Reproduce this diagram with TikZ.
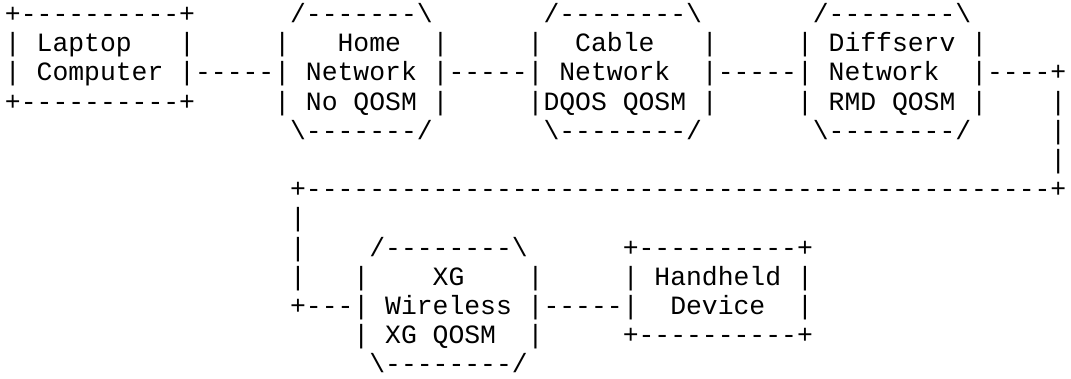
\documentclass[tikz,border=0pt]{standalone}
\usepackage{fontspec}
\setmonofont{Liberation Mono}
\newcommand{\asciifont}{\ttfamily\fontsize{26.4pt}{29.2pt}\selectfont}
\newcommand{\bs}{\textbackslash}
% \A{name}{column}{row}{text}
\newcommand{\A}[4]{\node[ascii] (#1) at ({(5+15.84*#2)*1pt},{(-22.5-29.2*#3)*1pt}) {#4};}
\tikzset{ascii/.style={anchor=base west, inner sep=0pt, outer sep=0pt, font=\asciifont, text=black}}
\begin{document}
\begin{tikzpicture}
\useasboundingbox (0pt,0pt) rectangle (1071pt,-378pt);
% row 0
\A{lapT}{0}{0}{+----------+}
\A{homeT}{18}{0}{/-------\bs}
\A{cabT}{34}{0}{/--------\bs}
\A{difT}{51}{0}{/--------\bs}
% row 1
\A{lapL1}{0}{1}{|}
\A{lapA}{2}{1}{Laptop}
\A{lapR1}{11}{1}{|}
\A{homeL1}{17}{1}{|}
\A{homeA}{21}{1}{Home}
\A{homeR1}{27}{1}{|}
\A{cabL1}{33}{1}{|}
\A{cabA}{36}{1}{Cable}
\A{cabR1}{44}{1}{|}
\A{difL1}{50}{1}{|}
\A{difA}{52}{1}{Diffserv}
\A{difR1}{61}{1}{|}
% row 2
\A{lapL2}{0}{2}{|}
\A{lapB}{2}{2}{Computer}
\A{link1}{11}{2}{|-----|}
\A{homeB}{19}{2}{Network}
\A{link2}{27}{2}{|-----|}
\A{cabB}{35}{2}{Network}
\A{link3}{44}{2}{|-----|}
\A{difB}{52}{2}{Network}
\A{link4}{61}{2}{|----+}
% row 3
\A{lapBot}{0}{3}{+----------+}
\A{homeL3}{17}{3}{|}
\A{homeC}{19}{3}{No QOSM}
\A{homeR3}{27}{3}{|}
\A{cabC}{33}{3}{|DQOS QOSM}
\A{cabR3}{44}{3}{|}
\A{difL3}{50}{3}{|}
\A{difC}{52}{3}{RMD QOSM}
\A{difR3}{61}{3}{|}
\A{v3}{66}{3}{|}
% row 4
\A{homeBot}{18}{4}{\bs-------/}
\A{cabBot}{34}{4}{\bs--------/}
\A{difBot}{51}{4}{\bs--------/}
\A{v4}{66}{4}{|}
% row 5
\A{v5}{66}{5}{|}
% row 6
\A{longline}{18}{6}{+-----------------------------------------------+}
% row 7
\A{v7}{18}{7}{|}
% row 8
\A{v8}{18}{8}{|}
\A{xgT}{23}{8}{/--------\bs}
\A{hhT}{39}{8}{+----------+}
% row 9
\A{v9}{18}{9}{|}
\A{xgL9}{22}{9}{|}
\A{xgA}{27}{9}{XG}
\A{xgR9}{33}{9}{|}
\A{hhL9}{39}{9}{|}
\A{hhA}{41}{9}{Handheld}
\A{hhR9}{50}{9}{|}
% row 10
\A{link5}{18}{10}{+---|}
\A{xgB}{24}{10}{Wireless}
\A{link6}{33}{10}{|-----|}
\A{hhB}{42}{10}{Device}
\A{hhR10}{50}{10}{|}
% row 11
\A{xgL11}{22}{11}{|}
\A{xgC}{24}{11}{XG QOSM}
\A{xgR11}{33}{11}{|}
\A{hhBot}{39}{11}{+----------+}
% row 12
\A{xgBot}{23}{12}{\bs--------/}
\end{tikzpicture}
\end{document}
